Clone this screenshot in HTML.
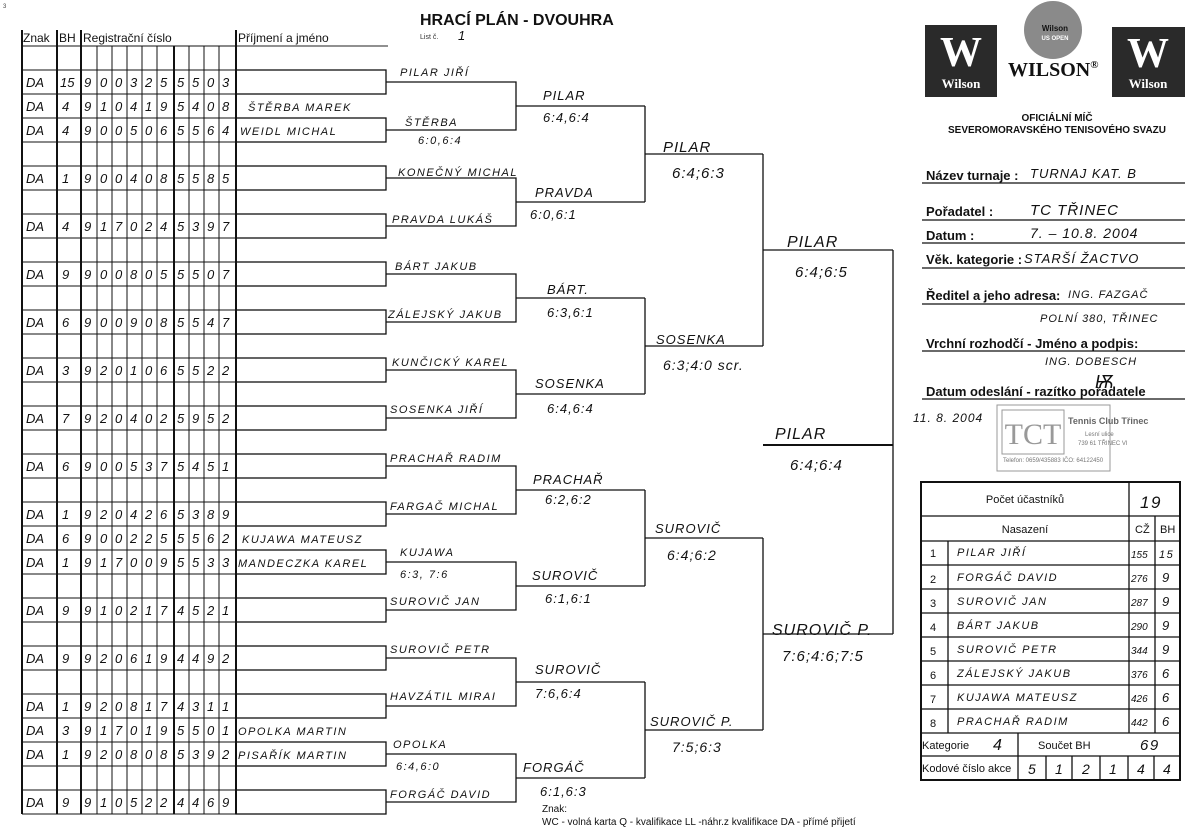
<!DOCTYPE html>
<html><head><meta charset="utf-8"><style>
html,body{margin:0;padding:0;background:#fff;}
svg{display:block;}
.p{font-family:"Liberation Sans",sans-serif;}
.h{font-family:"Liberation Sans",sans-serif;font-style:italic;font-size:11px;letter-spacing:1.5px;fill:#111;}
.hb{font-family:"Liberation Sans",sans-serif;font-style:italic;font-size:13px;letter-spacing:1px;fill:#111;}
.d{font-family:"Liberation Sans",sans-serif;font-style:italic;font-size:13px;fill:#111;}
</style></head><body>
<svg width="1200" height="835" viewBox="0 0 1200 835" xmlns="http://www.w3.org/2000/svg">
<rect width="1200" height="835" fill="#fff"/>
<text x="3" y="8" class="p" font-size="6" fill="#444">3</text>
<!-- Title -->
<text x="420" y="25" class="p" font-size="16" font-weight="bold" fill="#111">HRACÍ PLÁN - DVOUHRA</text>
<text x="420" y="39" class="p" font-size="7" fill="#333">List č.</text>
<text x="458" y="40" class="hb">1</text>
<!-- Table header -->
<g class="p" font-size="12" fill="#111">
<text x="23" y="42">Znak</text><text x="59" y="42">BH</text><text x="83" y="42">Registrační číslo</text><text x="238" y="42">Příjmení a jméno</text>
</g>
<line x1="236" y1="46" x2="388" y2="46" stroke="#222" stroke-width="1"/>
<g stroke="#111" stroke-width="1">
<line x1="22" y1="46" x2="236" y2="46"/><line x1="22" y1="70" x2="236" y2="70"/><line x1="22" y1="94" x2="236" y2="94"/><line x1="22" y1="118" x2="236" y2="118"/><line x1="22" y1="142" x2="236" y2="142"/><line x1="22" y1="166" x2="236" y2="166"/><line x1="22" y1="190" x2="236" y2="190"/><line x1="22" y1="214" x2="236" y2="214"/><line x1="22" y1="238" x2="236" y2="238"/><line x1="22" y1="262" x2="236" y2="262"/><line x1="22" y1="286" x2="236" y2="286"/><line x1="22" y1="310" x2="236" y2="310"/><line x1="22" y1="334" x2="236" y2="334"/><line x1="22" y1="358" x2="236" y2="358"/><line x1="22" y1="382" x2="236" y2="382"/><line x1="22" y1="406" x2="236" y2="406"/><line x1="22" y1="430" x2="236" y2="430"/><line x1="22" y1="454" x2="236" y2="454"/><line x1="22" y1="478" x2="236" y2="478"/><line x1="22" y1="502" x2="236" y2="502"/><line x1="22" y1="526" x2="236" y2="526"/><line x1="22" y1="550" x2="236" y2="550"/><line x1="22" y1="574" x2="236" y2="574"/><line x1="22" y1="598" x2="236" y2="598"/><line x1="22" y1="622" x2="236" y2="622"/><line x1="22" y1="646" x2="236" y2="646"/><line x1="22" y1="670" x2="236" y2="670"/><line x1="22" y1="694" x2="236" y2="694"/><line x1="22" y1="718" x2="236" y2="718"/><line x1="22" y1="742" x2="236" y2="742"/><line x1="22" y1="766" x2="236" y2="766"/><line x1="22" y1="790" x2="236" y2="790"/><line x1="22" y1="814" x2="236" y2="814"/>
</g>
<g stroke="#111">
<line x1="22" y1="30" x2="22" y2="814" stroke-width="2"/>
<line x1="57" y1="30" x2="57" y2="814" stroke-width="2"/>
<line x1="81" y1="30" x2="81" y2="814" stroke-width="2"/>
<line x1="97" y1="46" x2="97" y2="814"/><line x1="112" y1="46" x2="112" y2="814"/><line x1="127" y1="46" x2="127" y2="814"/><line x1="142" y1="46" x2="142" y2="814"/><line x1="157" y1="46" x2="157" y2="814"/>
<line x1="174" y1="46" x2="174" y2="814" stroke-width="2"/>
<line x1="189" y1="46" x2="189" y2="814"/><line x1="204" y1="46" x2="204" y2="814"/><line x1="219" y1="46" x2="219" y2="814"/>
<line x1="236" y1="30" x2="236" y2="814" stroke-width="2"/>
</g>
<!-- Table data -->
<g class="d">
<text x="26" y="87">DA</text><text x="60" y="87">15</text><text x="84 100 115 130 145 160 177 192 207 222" y="87">9003255503</text>
<text x="26" y="111">DA</text><text x="62" y="111">4</text><text x="84 100 115 130 145 160 177 192 207 222" y="111">9104195408</text>
<text x="26" y="135">DA</text><text x="62" y="135">4</text><text x="84 100 115 130 145 160 177 192 207 222" y="135">9005065564</text>
<text x="26" y="183">DA</text><text x="62" y="183">1</text><text x="84 100 115 130 145 160 177 192 207 222" y="183">9004085585</text>
<text x="26" y="231">DA</text><text x="62" y="231">4</text><text x="84 100 115 130 145 160 177 192 207 222" y="231">9170245397</text>
<text x="26" y="279">DA</text><text x="62" y="279">9</text><text x="84 100 115 130 145 160 177 192 207 222" y="279">9008055507</text>
<text x="26" y="327">DA</text><text x="62" y="327">6</text><text x="84 100 115 130 145 160 177 192 207 222" y="327">9009085547</text>
<text x="26" y="375">DA</text><text x="62" y="375">3</text><text x="84 100 115 130 145 160 177 192 207 222" y="375">9201065522</text>
<text x="26" y="423">DA</text><text x="62" y="423">7</text><text x="84 100 115 130 145 160 177 192 207 222" y="423">9204025952</text>
<text x="26" y="471">DA</text><text x="62" y="471">6</text><text x="84 100 115 130 145 160 177 192 207 222" y="471">9005375451</text>
<text x="26" y="519">DA</text><text x="62" y="519">1</text><text x="84 100 115 130 145 160 177 192 207 222" y="519">9204265389</text>
<text x="26" y="543">DA</text><text x="62" y="543">6</text><text x="84 100 115 130 145 160 177 192 207 222" y="543">9002255562</text>
<text x="26" y="567">DA</text><text x="62" y="567">1</text><text x="84 100 115 130 145 160 177 192 207 222" y="567">9170095533</text>
<text x="26" y="615">DA</text><text x="62" y="615">9</text><text x="84 100 115 130 145 160 177 192 207 222" y="615">9102174521</text>
<text x="26" y="663">DA</text><text x="62" y="663">9</text><text x="84 100 115 130 145 160 177 192 207 222" y="663">9206194492</text>
<text x="26" y="711">DA</text><text x="62" y="711">1</text><text x="84 100 115 130 145 160 177 192 207 222" y="711">9208174311</text>
<text x="26" y="735">DA</text><text x="62" y="735">3</text><text x="84 100 115 130 145 160 177 192 207 222" y="735">9170195501</text>
<text x="26" y="759">DA</text><text x="62" y="759">1</text><text x="84 100 115 130 145 160 177 192 207 222" y="759">9208085392</text>
<text x="26" y="807">DA</text><text x="62" y="807">9</text><text x="84 100 115 130 145 160 177 192 207 222" y="807">9105224469</text>
</g>
<!-- Name boxes -->
<g fill="none" stroke="#111" stroke-width="1.3">
<rect x="236" y="70" width="150" height="24"/><rect x="236" y="118" width="150" height="24"/><rect x="236" y="166" width="150" height="24"/><rect x="236" y="214" width="150" height="24"/><rect x="236" y="262" width="150" height="24"/><rect x="236" y="310" width="150" height="24"/><rect x="236" y="358" width="150" height="24"/><rect x="236" y="406" width="150" height="24"/><rect x="236" y="454" width="150" height="24"/><rect x="236" y="502" width="150" height="24"/><rect x="236" y="550" width="150" height="24"/><rect x="236" y="598" width="150" height="24"/><rect x="236" y="646" width="150" height="24"/><rect x="236" y="694" width="150" height="24"/><rect x="236" y="742" width="150" height="24"/><rect x="236" y="790" width="150" height="24"/>
</g>
<g class="h">
<text x="248" y="111">ŠTĚRBA MAREK</text>
<text x="240" y="135">WEIDL MICHAL</text>
<text x="242" y="543">KUJAWA MATEUSZ</text>
<text x="238" y="567">MANDECZKA KAREL</text>
<text x="238" y="735">OPOLKA MARTIN</text>
<text x="238" y="759">PISAŘÍK MARTIN</text>
</g>
<!-- Bracket lines -->
<g fill="none" stroke="#111" stroke-width="1.3">
<polyline points="386,82 516,82 516,130 386,130"/><line x1="516" y1="106" x2="645" y2="106"/>
<polyline points="386,178 516,178 516,226 386,226"/><line x1="516" y1="202" x2="645" y2="202"/>
<polyline points="386,274 516,274 516,322 386,322"/><line x1="516" y1="298" x2="645" y2="298"/>
<polyline points="386,370 516,370 516,418 386,418"/><line x1="516" y1="394" x2="645" y2="394"/>
<polyline points="386,466 516,466 516,514 386,514"/><line x1="516" y1="490" x2="645" y2="490"/>
<polyline points="386,562 516,562 516,610 386,610"/><line x1="516" y1="586" x2="645" y2="586"/>
<polyline points="386,658 516,658 516,706 386,706"/><line x1="516" y1="682" x2="645" y2="682"/>
<polyline points="386,754 516,754 516,802 386,802"/><line x1="516" y1="778" x2="645" y2="778"/>
<line x1="645" y1="106" x2="645" y2="202"/><line x1="645" y1="154" x2="763" y2="154"/>
<line x1="645" y1="298" x2="645" y2="394"/><line x1="645" y1="346" x2="763" y2="346"/>
<line x1="645" y1="490" x2="645" y2="586"/><line x1="645" y1="538" x2="763" y2="538"/>
<line x1="645" y1="682" x2="645" y2="778"/><line x1="645" y1="730" x2="763" y2="730"/>
<line x1="763" y1="154" x2="763" y2="346"/><line x1="763" y1="250" x2="893" y2="250"/>
<line x1="763" y1="538" x2="763" y2="730"/><line x1="763" y1="634" x2="893" y2="634"/>
<line x1="893" y1="250" x2="893" y2="634"/>
<line x1="763" y1="445" x2="893" y2="445" stroke-width="2"/>
</g>
<!-- Bracket labels -->
<g class="h">
<text x="400" y="76">PILAR JIŘÍ</text>
<text x="405" y="126">ŠTĚRBA</text><text x="418" y="144">6:0,6:4</text>
<text x="398" y="176">KONEČNÝ MICHAL</text>
<text x="392" y="223">PRAVDA LUKÁŠ</text>
<text x="395" y="270">BÁRT JAKUB</text>
<text x="388" y="318">ZÁLEJSKÝ JAKUB</text>
<text x="392" y="366">KUNČICKÝ KAREL</text>
<text x="390" y="413">SOSENKA JIŘÍ</text>
<text x="390" y="462">PRACHAŘ RADIM</text>
<text x="390" y="510">FARGAČ MICHAL</text>
<text x="400" y="556">KUJAWA</text><text x="400" y="578">6:3, 7:6</text>
<text x="390" y="605">SUROVIČ JAN</text>
<text x="390" y="653">SUROVIČ PETR</text>
<text x="390" y="700">HAVZÁTIL MIRAI</text>
<text x="393" y="748">OPOLKA</text><text x="396" y="770">6:4,6:0</text>
<text x="390" y="798">FORGÁČ DAVID</text>
</g>
<g class="hb">
<text x="543" y="100">PILAR</text><text x="543" y="122">6:4,6:4</text>
<text x="535" y="197">PRAVDA</text><text x="530" y="219">6:0,6:1</text>
<text x="547" y="294">BÁRT.</text><text x="547" y="317">6:3,6:1</text>
<text x="535" y="388">SOSENKA</text><text x="547" y="413">6:4,6:4</text>
<text x="533" y="484">PRACHAŘ</text><text x="545" y="504">6:2,6:2</text>
<text x="532" y="580">SUROVIČ</text><text x="545" y="603">6:1,6:1</text>
<text x="535" y="674">SUROVIČ</text><text x="535" y="698">7:6,6:4</text>
<text x="523" y="772">FORGÁČ</text><text x="540" y="796">6:1,6:3</text>
<text x="663" y="152" font-size="15">PILAR</text><text x="672" y="178" font-size="15">6:4;6:3</text>
<text x="656" y="344">SOSENKA</text><text x="663" y="370" font-size="14">6:3;4:0 scr.</text>
<text x="655" y="533">SUROVIČ</text><text x="667" y="560" font-size="14">6:4;6:2</text>
<text x="650" y="726">SUROVIČ P.</text><text x="672" y="752" font-size="14">7:5;6:3</text>
<text x="787" y="247" font-size="16">PILAR</text><text x="795" y="277" font-size="15">6:4;6:5</text>
<text x="772" y="635" font-size="16">SUROVIČ P.</text><text x="782" y="661" font-size="15">7:6;4:6;7:5</text>
<text x="775" y="439" font-size="16">PILAR</text><text x="790" y="470" font-size="15">6:4;6:4</text>
</g>
<text x="542" y="812" class="p" font-size="10" fill="#111">Znak:</text>
<text x="542" y="825" class="p" font-size="10" fill="#111">WC - volná karta Q - kvalifikace LL -náhr.z kvalifikace DA - přímé přijetí</text>
<!-- Wilson logos -->
<rect x="925" y="25" width="72" height="72" fill="#2a2a2a"/>
<text x="961" y="66" text-anchor="middle" font-family="Liberation Serif,serif" font-size="42" font-weight="bold" fill="#fff">W</text>
<text x="961" y="88" text-anchor="middle" font-family="Liberation Serif,serif" font-size="13" font-weight="bold" fill="#fff">Wilson</text>
<rect x="1112" y="27" width="73" height="70" fill="#2a2a2a"/>
<text x="1148" y="67" text-anchor="middle" font-family="Liberation Serif,serif" font-size="42" font-weight="bold" fill="#fff">W</text>
<text x="1148" y="88" text-anchor="middle" font-family="Liberation Serif,serif" font-size="13" font-weight="bold" fill="#fff">Wilson</text>
<circle cx="1053" cy="30" r="29" fill="#8a8a8a"/>
<text x="1055" y="31" text-anchor="middle" class="p" font-size="8" font-weight="bold" fill="#111">Wilson</text>
<text x="1055" y="40" text-anchor="middle" class="p" font-size="6" font-weight="bold" fill="#fff">US OPEN</text>
<text x="1008" y="76" font-family="Liberation Serif,serif" font-size="20" font-weight="bold" fill="#111">WILSON<tspan font-size="11" dy="-8">®</tspan></text>
<text x="1057" y="121" text-anchor="middle" class="p" font-size="10" font-weight="bold" fill="#111">OFICIÁLNÍ MÍČ</text>
<text x="1057" y="133" text-anchor="middle" class="p" font-size="10" font-weight="bold" fill="#111">SEVEROMORAVSKÉHO TENISOVÉHO SVAZU</text>
<!-- Form fields -->
<g class="p" font-size="13" font-weight="bold" fill="#111">
<text x="926" y="180">Název turnaje :</text>
<text x="926" y="216">Pořadatel :</text>
<text x="926" y="240">Datum :</text>
<text x="926" y="264">Věk. kategorie :</text>
<text x="926" y="300">Ředitel a jeho adresa:</text>
<text x="926" y="348">Vrchní rozhodčí - Jméno a podpis:</text>
<text x="926" y="396">Datum odeslání - razítko pořadatele</text>
</g>
<g stroke="#111" stroke-width="1.2">
<line x1="922" y1="183" x2="1185" y2="183"/><line x1="922" y1="220" x2="1185" y2="220"/><line x1="922" y1="243" x2="1185" y2="243"/><line x1="922" y1="268" x2="1185" y2="268"/><line x1="922" y1="304" x2="1185" y2="304"/><line x1="922" y1="351" x2="1185" y2="351"/><line x1="922" y1="399" x2="1185" y2="399"/>
</g>
<g class="hb">
<text x="1030" y="178">TURNAJ KAT. B</text>
<text x="1030" y="215" font-size="15">TC TŘINEC</text>
<text x="1030" y="238" font-size="14">7. – 10.8. 2004</text>
<text x="1024" y="263">STARŠÍ ŽACTVO</text>
<text x="1068" y="298" font-size="11">ING. FAZGAČ</text>
<text x="1040" y="322" font-size="11">POLNÍ 380, TŘINEC</text>
<text x="1045" y="365" font-size="11">ING. DOBESCH</text>
<text x="1095" y="388" font-size="18">Ѭ</text>
<text x="913" y="422" font-size="12">11. 8. 2004</text>
</g>
<!-- stamp -->
<rect x="997" y="405" width="113" height="66" fill="none" stroke="#999" stroke-width="1"/>
<rect x="1002" y="410" width="62" height="44" fill="none" stroke="#999"/>
<text x="1033" y="444" text-anchor="middle" font-family="Liberation Serif,serif" font-size="30" fill="#999">TCT</text>
<text x="1068" y="424" class="p" font-size="9" font-weight="bold" fill="#666">Tennis Club Třinec</text>
<text x="1085" y="436" class="p" font-size="6" fill="#777">Lesní ulice</text>
<text x="1078" y="445" class="p" font-size="6" fill="#777">739 61 TŘINEC VI</text>
<text x="1003" y="462" class="p" font-size="6" fill="#777">Telefon: 0659/435883   IČO: 64122450</text>
<!-- bottom right table -->
<g fill="none" stroke="#111" stroke-width="1.3">
<rect x="921" y="482" width="259" height="298" stroke-width="2"/>
<line x1="921" y1="516" x2="1180" y2="516"/><line x1="921" y1="541" x2="1180" y2="541"/><line x1="921" y1="565" x2="1180" y2="565"/><line x1="921" y1="589" x2="1180" y2="589"/><line x1="921" y1="613" x2="1180" y2="613"/><line x1="921" y1="637" x2="1180" y2="637"/><line x1="921" y1="661" x2="1180" y2="661"/><line x1="921" y1="685" x2="1180" y2="685"/><line x1="921" y1="709" x2="1180" y2="709"/><line x1="921" y1="733" x2="1180" y2="733"/><line x1="921" y1="756" x2="1180" y2="756"/>
<line x1="1129" y1="482" x2="1129" y2="733"/><line x1="1155" y1="516" x2="1155" y2="733"/><line x1="948" y1="541" x2="948" y2="733"/>
<line x1="1018" y1="733" x2="1018" y2="780"/>
<line x1="1046" y1="756" x2="1046" y2="780"/><line x1="1072" y1="756" x2="1072" y2="780"/><line x1="1100" y1="756" x2="1100" y2="780"/><line x1="1128" y1="756" x2="1128" y2="780"/><line x1="1154" y1="756" x2="1154" y2="780"/>
</g>
<g class="p" font-size="11" fill="#111">
<text x="1025" y="503" text-anchor="middle">Počet účastníků</text>
<text x="1025" y="533" text-anchor="middle">Nasazení</text>
<text x="1135" y="533">CŽ</text><text x="1160" y="533">BH</text>
<text x="930" y="557">1</text><text x="930" y="583">2</text><text x="930" y="607">3</text><text x="930" y="631">4</text><text x="930" y="655">5</text><text x="930" y="679">6</text><text x="930" y="703">7</text><text x="930" y="727">8</text>
<text x="922" y="749">Kategorie</text><text x="1038" y="749">Součet BH</text>
<text x="922" y="772">Kodové číslo akce</text>
</g>
<g class="h">
<text x="957" y="556">PILAR JIŘÍ</text><text x="1131" y="558" font-size="10" letter-spacing="0">155</text><text x="1159" y="558">15</text>
<text x="957" y="581">FORGÁČ DAVID</text><text x="1131" y="582" font-size="10" letter-spacing="0">276</text><text x="1162" y="582" font-size="13">9</text>
<text x="957" y="605">SUROVIČ JAN</text><text x="1131" y="606" font-size="10" letter-spacing="0">287</text><text x="1162" y="606" font-size="13">9</text>
<text x="957" y="629">BÁRT JAKUB</text><text x="1131" y="630" font-size="10" letter-spacing="0">290</text><text x="1162" y="630" font-size="13">9</text>
<text x="957" y="653">SUROVIČ PETR</text><text x="1131" y="654" font-size="10" letter-spacing="0">344</text><text x="1162" y="654" font-size="13">9</text>
<text x="957" y="677">ZÁLEJSKÝ JAKUB</text><text x="1131" y="678" font-size="10" letter-spacing="0">376</text><text x="1162" y="678" font-size="13">6</text>
<text x="957" y="701">KUJAWA MATEUSZ</text><text x="1131" y="702" font-size="10" letter-spacing="0">426</text><text x="1162" y="702" font-size="13">6</text>
<text x="957" y="725">PRACHAŘ RADIM</text><text x="1131" y="726" font-size="10" letter-spacing="0">442</text><text x="1162" y="726" font-size="13">6</text>
<text x="1140" y="508" font-size="17">19</text>
<text x="993" y="750" font-size="16">4</text>
<text x="1140" y="750" font-size="15">69</text>
<text x="1028 1055 1082 1109 1137 1163" y="774" font-size="14">512144</text>
</g>
</svg>
</body></html>
